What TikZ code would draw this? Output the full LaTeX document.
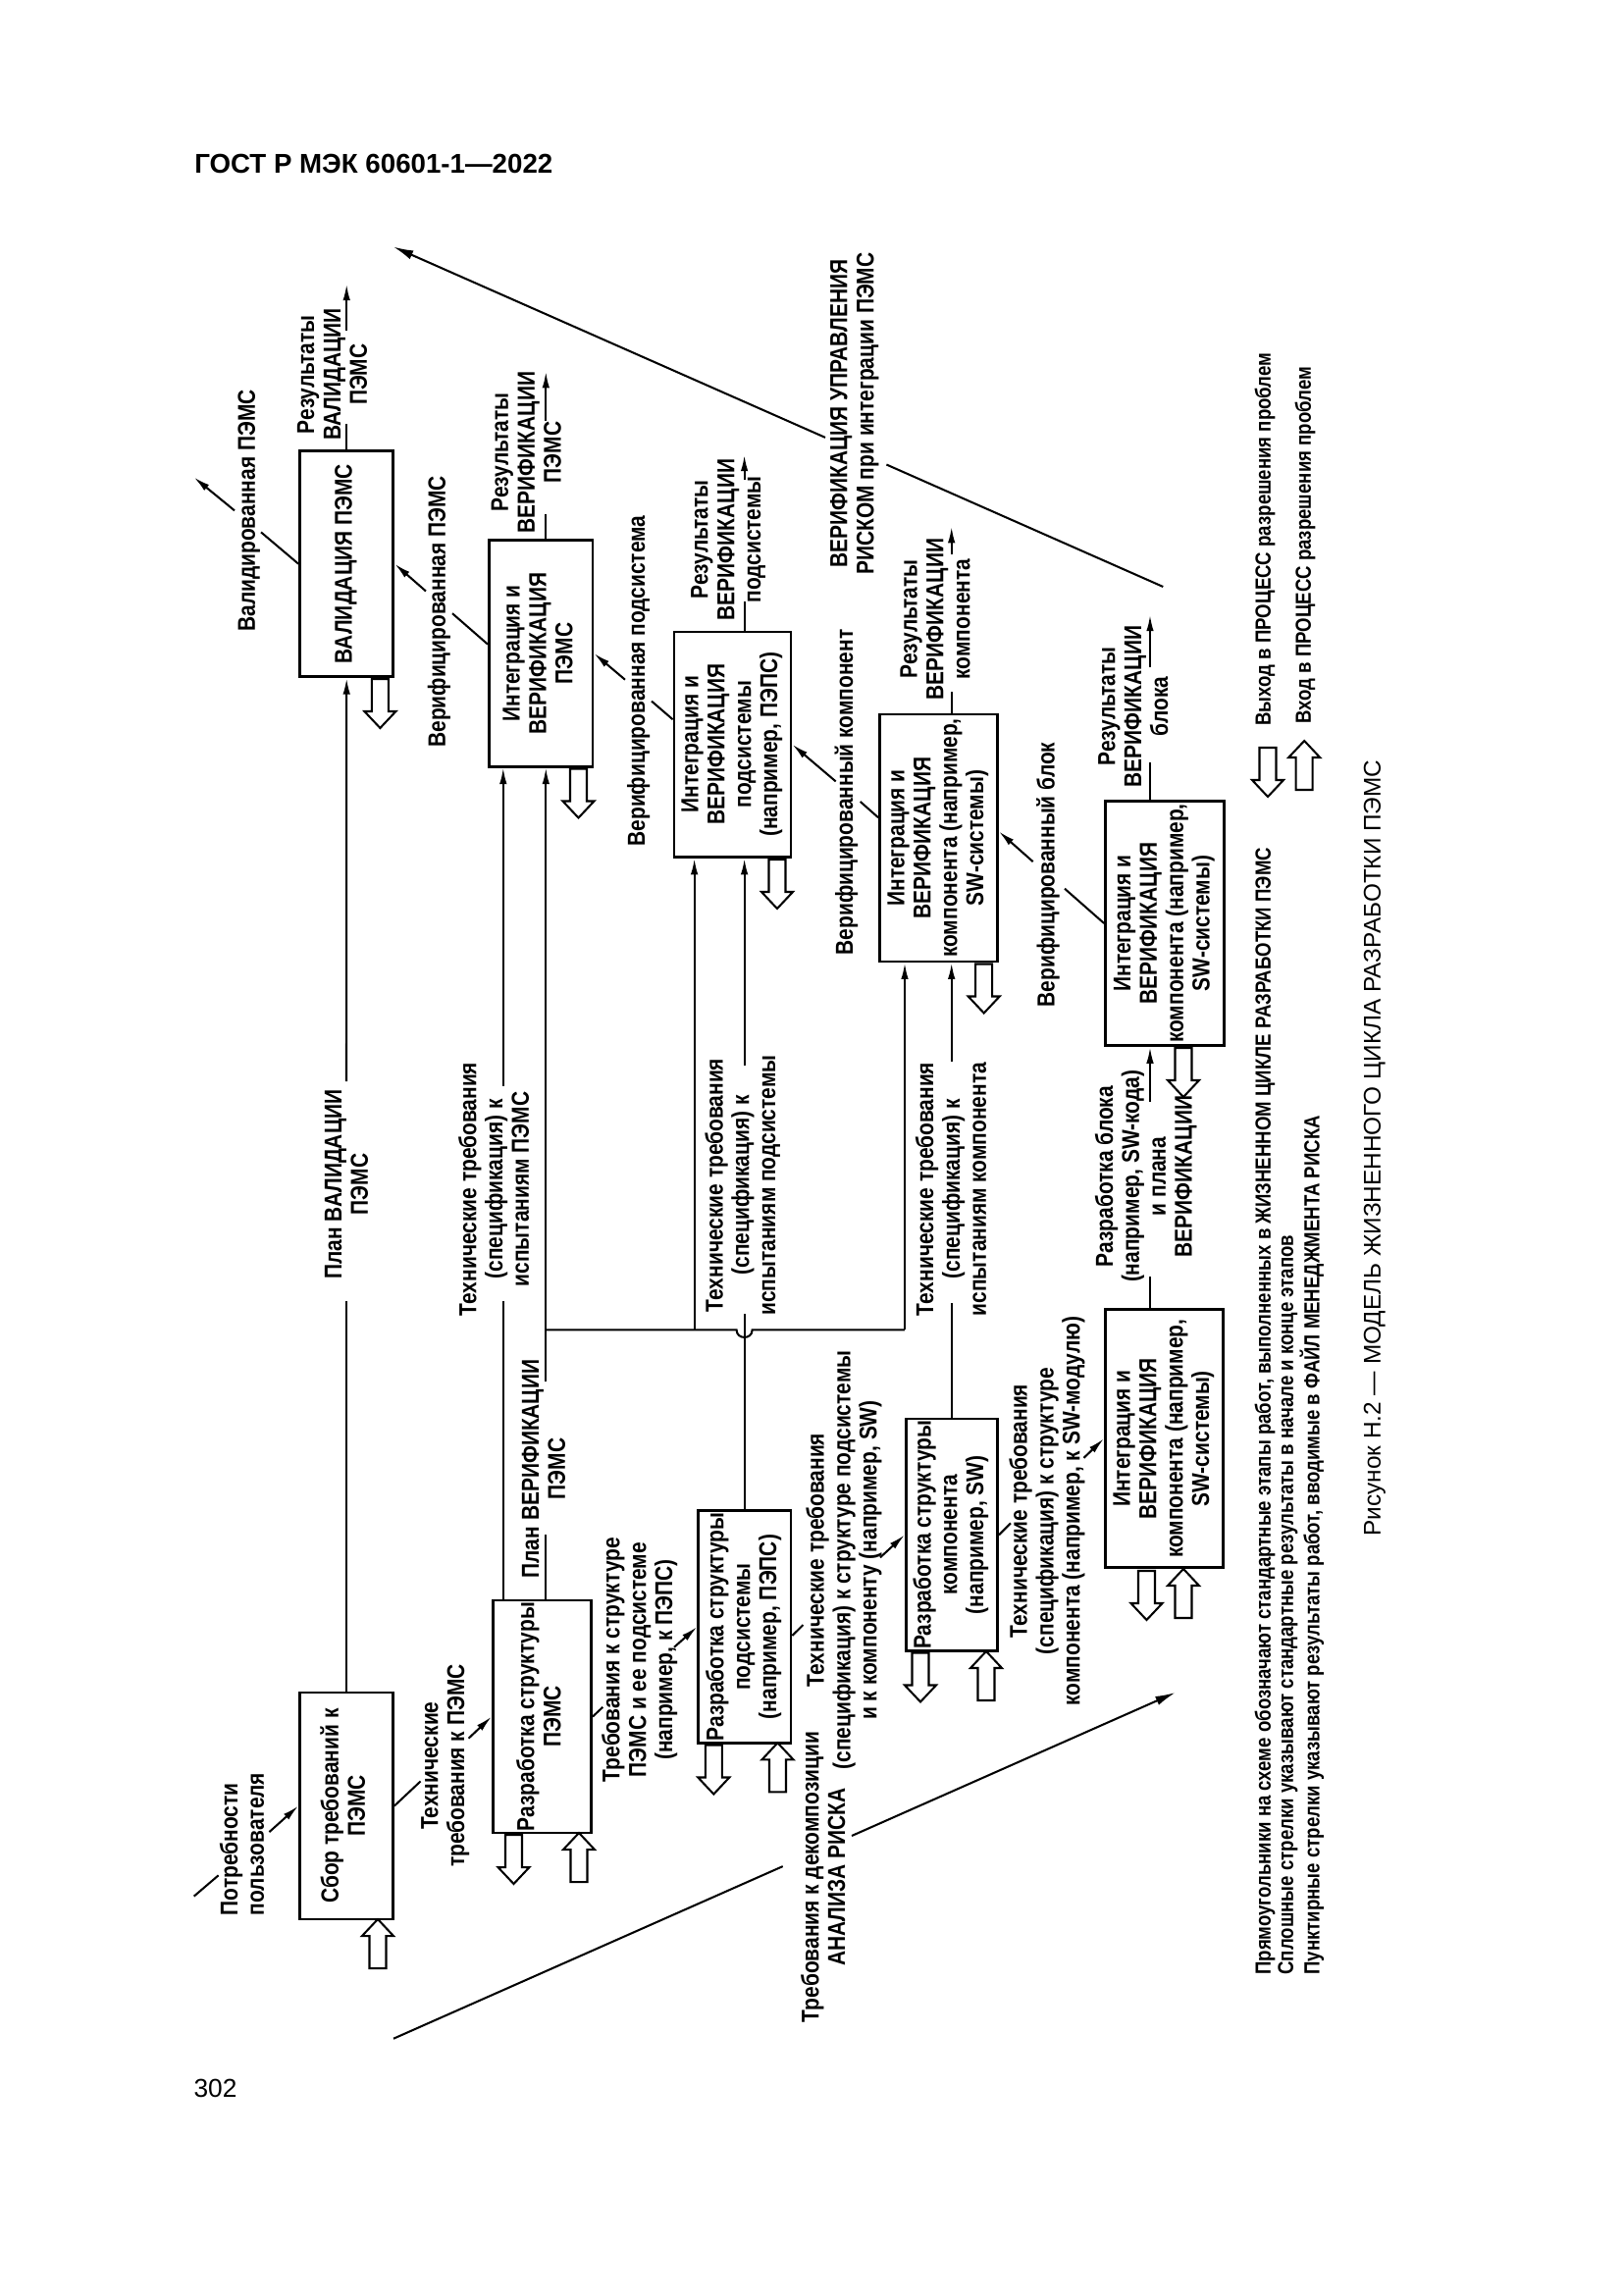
\documentclass[tikz,border=0pt]{standalone}
\usepackage{graphicx}
\usepackage{fontspec}
\setmainfont{Liberation Sans}
\newfontfamily\dfont{Liberation Sans}[FakeStretch=0.84]
\usetikzlibrary{arrows.meta,calc}
\newcommand{\vt}[1]{\rotatebox{90}{\begin{tabular}{@{}c@{}}#1\end{tabular}}}
\tikzset{
  dtext/.style={font=\dfont\bfseries\fontsize{9}{9.7}\selectfont},
  box/.style={draw, line width=0.35mm, inner sep=0pt, dtext},
  lbl/.style={rotate=90, align=center, inner sep=0pt, dtext},
  leg/.style={rotate=90, anchor=west, inner sep=0pt, font=\dfont\bfseries\fontsize{8}{8.5}\selectfont},
  con/.style={line width=0.26mm},
  arr/.style={con, -{Latex[length=2.1mm,width=0.95mm]}},
  bigarr/.style={con, -{Latex[length=2.6mm,width=1.2mm]}},
  hollow/.style={draw, line width=0.26mm, fill=white, line join=miter},
  hdown/.pic={\draw[hollow] (-8.5,0) -- (8.5,0) -- (8.5,33) -- (16,33) -- (0,50) -- (-16,33) -- (-8.5,33) -- cycle;},
  hup/.pic={\draw[hollow] (0,0) -- (16,17) -- (8.5,17) -- (8.5,50) -- (-8.5,50) -- (-8.5,17) -- (-16,17) -- cycle;}
}
\begin{document}
\begin{tikzpicture}[x=0.126965mm, y=-0.126965mm]
\useasboundingbox (0,0) rectangle (1654,2339);
\fill[white] (0,0) rectangle (1654,2339);

% header and page number
\node[anchor=base west, inner sep=0pt, font=\bfseries\fontsize{10}{12}\selectfont] (hdr) at (197.7,177) {ГОСТ Р МЭК 60601-1—2022};
\node[anchor=base west, inner sep=0pt, font=\fontsize{9.5}{11}\selectfont] (pg) at (197,2137) {302};

% boxes
\node[box, minimum width=12.06mm, minimum height=29.33mm] (b1) at (353,1840.5) {\vt{Сбор требований к\\ПЭМС}};
\node[box, minimum width=12.10mm, minimum height=29.21mm] (val) at (353.2,574.7) {\vt{ВАЛИДАЦИЯ ПЭМС}};
\node[box, minimum width=13.42mm, minimum height=29.24mm] (intP) at (551.2,666) {\vt{Интеграция и\\ВЕРИФИКАЦИЯ\\ПЭМС}};
\node[box, minimum width=12.73mm, minimum height=30.09mm] (ps) at (552.5,1749.5) {\vt{Разработка структуры\\ПЭМС}};
\node[box, minimum width=15.11mm, minimum height=29.14mm] (intS) at (746.5,758.75) {\vt{Интеграция и\\ВЕРИФИКАЦИЯ\\подсистемы\\(например, ПЭПС)}};
\node[box, minimum width=11.96mm, minimum height=30.04mm] (pSS) at (758.9,1658) {\vt{Разработка структуры\\подсистемы\\(например, ПЭПС)}};
\node[box, minimum width=15.24mm, minimum height=32.0mm] (intC) at (956.5,854) {\vt{Интеграция и\\ВЕРИФИКАЦИЯ\\компонента (например,\\SW-системы)}};
\node[box, minimum width=11.85mm, minimum height=30.04mm] (pC) at (970,1564.3) {\vt{Разработка структуры\\компонента\\(например, SW)}};
\node[box, minimum width=15.36mm, minimum height=31.70mm] (intB) at (1187,941) {\vt{Интеграция и\\ВЕРИФИКАЦИЯ\\компонента (например,\\SW-системы)}};
\node[box, minimum width=15.27mm, minimum height=33.42mm] (intB2) at (1186.5,1466.2) {\vt{Интеграция и\\ВЕРИФИКАЦИЯ\\компонента (например,\\SW-системы)}};

% gap and free-end coordinates
\coordinate (k1a) at (353,1326);   \coordinate (k1b) at (353,1102);
\coordinate (k2t) at (353.2,289.6); \coordinate (k2a) at (353.2,431.8); \coordinate (k2b) at (353.2,337.3);
\coordinate (k3t) at (197.7,486.5); \coordinate (k3a) at (266,542.4); \coordinate (k3b) at (239,520.3);
\coordinate (k4a) at (461,625.2);  \coordinate (k4b) at (434,602.5);
\coordinate (k5t) at (556.3,378.8); \coordinate (k5a) at (556.3,523.9); \coordinate (k5b) at (556.3,428.5);
\coordinate (k6a) at (664,714.6);  \coordinate (k6b) at (637,692.7);
\coordinate (k7t) at (758.6,463.7); \coordinate (k7a) at (758.6,613); \coordinate (k7b) at (758.6,488.6);
\coordinate (k8a) at (876.7,817.0); \coordinate (k8b) at (851.7,796.4);
\coordinate (k9t) at (969.7,536.8); \coordinate (k9a) at (969.7,705); \coordinate (k9b) at (969.7,565);
\coordinate (k10a) at (1085,905.7); \coordinate (k10b) at (1052.7,878.2);
\coordinate (k11t) at (1172,626.7); \coordinate (k11a) at (1172,777); \coordinate (k11b) at (1172,680);
\coordinate (k12s) at (197.7,1932.6); \coordinate (k12a) at (222.6,1911.3); \coordinate (k12b) at (274.4,1867.1);
\coordinate (k13a) at (428.6,1815.4); \coordinate (k13b) at (477.5,1771.7);
\coordinate (k14a) at (614.3,1739.8); \coordinate (k14b) at (687,1678.8);
\coordinate (k15a) at (818.4,1656.1); \coordinate (k15b) at (897,1587.3);
\coordinate (k16a) at (1030,1552.3); \coordinate (k16b) at (1104.5,1485.8);
\coordinate (k17a) at (512.8,1326.3); \coordinate (k17b) at (512.8,1106.5);
\coordinate (k18a) at (556.3,1564); \coordinate (k18b) at (556.3,1408);
\coordinate (k19a) at (758.6,1338.7); \coordinate (k19b) at (758.6,1085.8);
\coordinate (k20a) at (969.7,1328.4); \coordinate (k20b) at (969.7,1081.7);
\coordinate (k21a) at (1172,1301.4); \coordinate (k21b) at (1172,1123);
\coordinate (k22s) at (401,2077.7); \coordinate (k22t) at (1197.8,1725);
\coordinate (k22a) at (797.7,1902.1); \coordinate (k22b) at (868,1871);
\coordinate (k23s) at (1185.3,598); \coordinate (k23t) at (400.8,251.5);
\coordinate (k23a) at (903.4,473.5); \coordinate (k23b) at (841,445.9);
\coordinate (bus0) at (556.3,1355.3); \coordinate (jmpL) at (750.6,1355.3);
\coordinate (jmpR) at (766.6,1355.3); \coordinate (busS) at (707.6,1355.3);
\coordinate (busC) at (922,1355.3);

% connectors
\draw[con] (b1.north) -- (k1a);  \draw[arr] (k1b) -- (val.south);
\draw[con] (val.north) -- (k2a); \draw[arr] (k2b) -- (k2t);
\draw[con] (val.west) -- (k3a);  \draw[arr] (k3b) -- (k3t);
\draw[con] ([yshift=1.2mm]intP.west) -- (k4a); \draw[arr] (k4b) -- (val.east);
\draw[con] (k5t |- intP.north) -- (k5a); \draw[arr] (k5b) -- (k5t);
\draw[con] ([yshift=3.24mm]intS.west) -- (k6a); \draw[arr] (k6b) -- (intP.east);
\draw[con] (k7t |- intS.north) -- (k7a); \draw[arr] (k7b) -- (k7t);
\draw[con] ([yshift=2.63mm]intC.west) -- (k8a); \draw[arr] (k8b) -- (intS.east);
\draw[con] (k9t |- intC.north) -- (k9a); \draw[arr] (k9b) -- (k9t);
\draw[con] (intB.west) -- (k10a); \draw[arr] (k10b) -- ([yshift=0.84mm]intC.east);
\draw[con] (k11t |- intB.north) -- (k11a); \draw[arr] (k11b) -- (k11t);
\draw[con] (k12s) -- (k12a); \draw[arr] (k12b) -- (b1.west);
\draw[con] (b1.east) -- (k13a); \draw[arr] (k13b) -- (ps.west);
\draw[con] (ps.east) -- (k14a); \draw[arr] (k14b) -- (pSS.west);
\draw[con] ([yshift=-1.14mm]pSS.east) -- (k15a); \draw[arr] (k15b) -- (pC.west);
\draw[con] (pC.east) -- (k16a); \draw[arr] (k16b) -- (intB2.west);
\draw[con] (k17a |- ps.north) -- (k17a); \draw[arr] (k17b) -- (k17b |- intP.south);
\draw[con] (k18a |- ps.north) -- (k18a); \draw[arr] (k18b) -- (k18b |- intP.south);
\draw[con] (bus0) -- (jmpL) .. controls (750.6,1365.5) and (766.6,1365.5) .. (jmpR) -- (busC);
\draw[arr] (busS) -- (busS |- intS.south);
\draw[arr] (busC) -- (busC |- intC.south);
\draw[con] (k19a |- pSS.north) -- (k19a); \draw[arr] (k19b) -- (k19b |- intS.south);
\draw[con] (k20a |- pC.north) -- (k20a); \draw[arr] (k20b) -- (k20b |- intC.south);
\draw[con] (k21a |- intB2.north) -- (k21a); \draw[arr] (k21b) -- (k21b |- intB.south);
\draw[con] (k22s) -- (k22a); \draw[bigarr] (k22b) -- (k22t);
\draw[con] (k23s) -- (k23a); \draw[bigarr] (k23b) -- (k23t);

% labels
\node[lbl] (lValRes) at (338.6,381.7) {Результаты\\ВАЛИДАЦИИ\\ПЭМС};
\node[lbl] (lValOut) at (253.7,520.5) {Валидированная ПЭМС};
\node[lbl] (lVerP) at (447.4,623.4) {Верифицированная ПЭМС};
\node[lbl] (lResP) at (536.3,461) {Результаты\\ВЕРИФИКАЦИИ\\ПЭМС};
\node[lbl] (lVerS) at (650.7,694) {Верифицированная подсистема};
\node[lbl] (lResS) at (742.2,550) {Результаты\\ВЕРИФИКАЦИИ\\подсистемы};
\node[lbl] (lRisk) at (870.8,421.5) {ВЕРИФИКАЦИЯ УПРАВЛЕНИЯ\\РИСКОМ при интеграции ПЭМС};
\node[lbl] (lVerC) at (862.5,807.5) {Верифицированный компонент};
\node[lbl] (lResC) at (953,631) {Результаты\\ВЕРИФИКАЦИИ\\компонента};
\node[lbl] (lVerB) at (1068,891.5) {Верифицированный блок};
\node[lbl] (lResB) at (1154.7,720) {Результаты\\ВЕРИФИКАЦИИ\\блока};
\node[lbl] (lPlanV) at (353,1207) {План ВАЛИДАЦИИ\\ПЭМС};
\node[lbl] (lTTP) at (503.1,1212) {Технические требования\\(спецификация) к\\испытаниям ПЭМС};
\node[lbl] (lTTS) at (756.7,1208) {Технические требования\\(спецификация) к\\испытаниям подсистемы};
\node[lbl] (lTTC) at (969,1212) {Технические требования\\(спецификация) к\\испытаниям компонента};
\node[lbl] (lDevB) at (1167.7,1199) {Разработка блока\\(например, SW-кода)\\и плана\\ВЕРИФИКАЦИИ};
\node[lbl, align=left, anchor=west] (lNeeds) at (246.5,1952.7) {Потребности\\пользователя};
\node[lbl] (lTR) at (453.7,1799.6) {Технические\\требования к ПЭМС};
\node[lbl] (lPlanVer) at (554,1497) {План ВЕРИФИКАЦИИ\\ПЭМС};
\node[lbl] (lReqS) at (651.7,1691.6) {Требования к структуре\\ПЭМС и ее подсистеме\\(например, к ПЭПС)};
\node[lbl] (lTTSS) at (860,1590) {Технические требования\\(спецификация) к структуре подсистемы\\и к компоненту (например, SW)};
\node[lbl] (lTTCS) at (1067,1540) {Технические требования\\(спецификация) к структуре\\компонента (например, к SW-модулю)};
\node[lbl] (lDecomp) at (838.7,1913) {Требования к декомпозиции\\АНАЛИЗА РИСКА};

% hollow process arrows
\pic at (387.4,692) {hdown};
\pic at (589.5,783.5) {hdown};
\pic at (792,876) {hdown};
\pic at (1002.7,982.5) {hdown};
\pic at (1206,1068) {hdown};
\pic at (1168.5,1601) {hdown};
\pic at (523.5,1870) {hdown};
\pic at (727.3,1778.5) {hdown};
\pic at (938,1684.5) {hdown};
\pic at (385,1956) {hup};
\pic at (590,1868) {hup};
\pic at (792.5,1776.3) {hup};
\pic at (1005,1683) {hup};
\pic at (1206,1599) {hup};

% legend
\pic at (1292,762) {hdown};
\pic at (1329.2,755) {hup};
\node[leg] (legOut) at (1289,740) {Выход в ПРОЦЕСС разрешения проблем};
\node[leg] (legIn) at (1330,738.3) {Вход в ПРОЦЕСС разрешения проблем};
\node[leg] (leg1) at (1289,2013) {Прямоугольники на схеме обозначают стандартные этапы работ, выполненных в ЖИЗНЕННОМ ЦИКЛЕ РАЗРАБОТКИ ПЭМС};
\node[leg] (leg2) at (1312.5,2013) {Сплошные стрелки указывают стандартные результаты в начале и конце этапов};
\node[leg] (leg3) at (1337,2013) {Пунктирные стрелки указывают результаты работ, вводимые в ФАЙЛ МЕНЕДЖМЕНТА РИСКА};

% caption
\node[rotate=90, inner sep=0pt, font=\fontsize{8.8}{10}\selectfont] (cap) at (1401,1170) {Рисунок Н.2 — МОДЕЛЬ ЖИЗНЕННОГО ЦИКЛА РАЗРАБОТКИ ПЭМС};
\end{tikzpicture}
\end{document}
